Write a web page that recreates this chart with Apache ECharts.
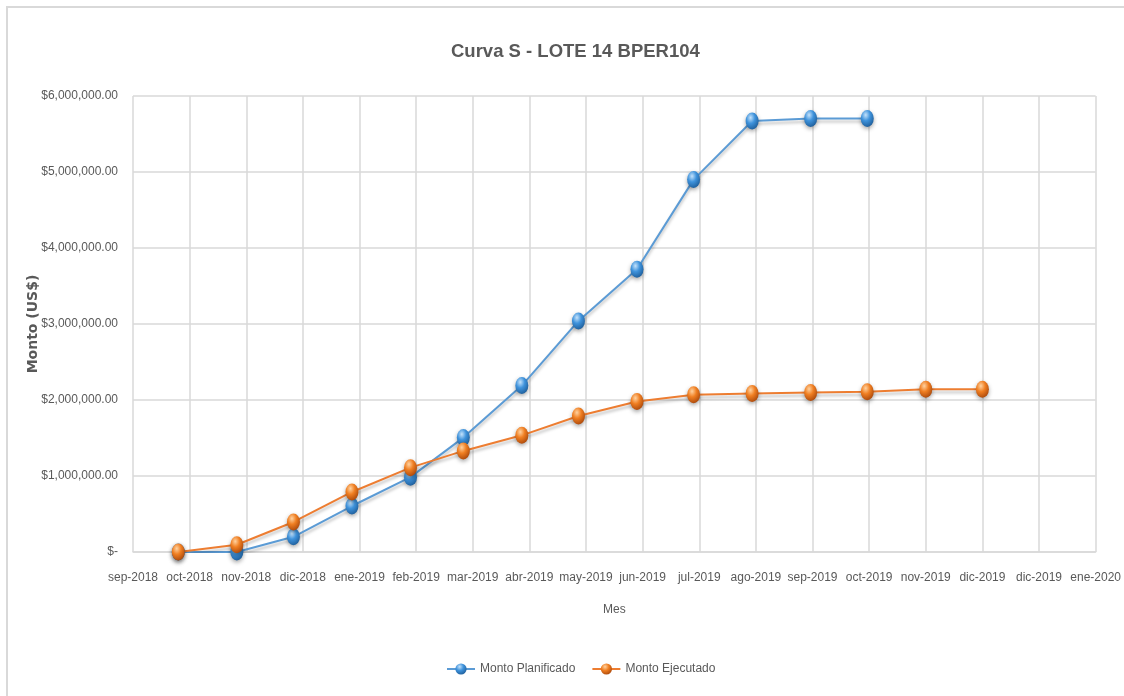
<!DOCTYPE html>
<html>
<head>
<meta charset="utf-8">
<script src="https://cdn.jsdelivr.net/npm/echarts@6/dist/echarts.min.js"></script>
<style>
	html, body{
		margin: 0;
		padding: 0;
		background: #fff;
	}
	#main{
		width: 1124px;
		height: 696px;
	}
</style>
</head>
<body>
<div id="main"></div>
<script type="text/javascript">
// fechas de cada punto (inicio de mes)
var meses = ['2018-10-01','2018-11-01','2018-12-01','2019-01-01','2019-02-01','2019-03-01','2019-04-01',
	'2019-05-01','2019-06-01','2019-07-01','2019-08-01','2019-09-01','2019-10-01','2019-11-01','2019-12-01'];
var montoPlanificado = [0, 0, 200000, 605000, 985000, 1505000, 2190000, 3040000, 3720000, 4900000, 5670000, 5705000, 5705000, null, null];
var montoEjecutado = [0, 95000, 395000, 790000, 1110000, 1330000, 1535000, 1790000, 1980000, 2070000, 2085000, 2100000, 2110000, 2140000, 2140000];
// etiquetas del eje X (unidad mayor = 30 dias)
var etiquetasX = ['sep-2018','oct-2018','nov-2018','dic-2018','ene-2019','feb-2019','mar-2019','abr-2019','may-2019',
	'jun-2019','jul-2019','ago-2019','sep-2019','oct-2019','nov-2019','dic-2019','dic-2019','ene-2020'];
var inicioEje = '2018-09-07';
var pasoDias = 30;

function dias(fecha){
	var a = fecha.split('-');
	var b = inicioEje.split('-');
	return (Date.UTC(+a[0], +a[1]-1, +a[2]) - Date.UTC(+b[0], +b[1]-1, +b[2])) / 86400000;
}
function serie(valores){
	var out = [];
	for(var i=0;i<valores.length;i++){
		if(valores[i]!=null){
			out.push([dias(meses[i]), valores[i]]);
		}
	}
	return out;
}
function dinero(v){
	if(v==0) return '$-';
	return '$' + v.toLocaleString('en-US', {minimumFractionDigits:2, maximumFractionDigits:2});
}
function esfera(c1, c2, c3){
	return {
		type: 'radial', x: 0.38, y: 0.3, r: 0.75,
		colorStops: [{offset:0, color:c1},{offset:0.45, color:c2},{offset:1, color:c3}]
	};
}

var fuente = "'Liberation Sans', Arial, sans-serif";
var gris = '#595959';
var myChart = echarts.init(document.getElementById('main'));
var option = {
	animation: false,
	backgroundColor: '#fff',
	graphic: [{
		type: 'rect',
		shape: {x: 7, y: 7, width: 1140, height: 720},
		style: {fill: 'none', stroke: '#d9d9d9', lineWidth: 2},
		silent: true
	}],
	title: {
		text: 'Curva S - LOTE 14 BPER104',
		left: 446,
		top: 37,
		textStyle: {fontFamily: fuente, fontSize: 18.5, fontWeight: 'bold', color: gris}
	},
	legend: {
		left: 441,
		top: 658,
		itemWidth: 28,
		itemHeight: 14,
		itemGap: 16,
		textStyle: {fontFamily: fuente, fontSize: 12, color: gris},
		data: ['Monto Planificado', 'Monto Ejecutado']
	},
	grid: {left: 133, right: 28, top: 96, bottom: 144},
	xAxis: {
		type: 'value',
		min: 0,
		max: pasoDias * (etiquetasX.length - 1),
		interval: pasoDias,
		name: 'Mes',
		nameLocation: 'middle',
		nameGap: 52,
		nameTextStyle: {fontFamily: fuente, fontSize: 12, color: gris},
		axisLine: {lineStyle: {color: '#d9d9d9', width: 1.5}},
		axisTick: {show: false},
		axisLabel: {
			fontFamily: fuente, fontSize: 12, color: gris, margin: 20,
			showMinLabel: true, showMaxLabel: true, hideOverlap: false,
			formatter: function(v){ return etiquetasX[Math.round(v / pasoDias)]; }
		},
		splitLine: {show: true, lineStyle: {color: '#d9d9d9', width: 1.5}}
	},
	yAxis: {
		type: 'value',
		min: 0,
		max: 6000000,
		interval: 1000000,
		name: 'Monto (US$)',
		nameLocation: 'middle',
		nameGap: 93,
		nameMoveOverlap: false,
		nameTextStyle: {fontFamily: "'DejaVu Sans', sans-serif", fontSize: 14, fontWeight: 'bold', color: gris},
		axisLine: {show: false},
		axisTick: {show: false},
		axisLabel: {fontFamily: fuente, fontSize: 12, color: gris, margin: 15, formatter: dinero},
		splitLine: {lineStyle: {color: '#d9d9d9', width: 1.5}}
	},
	series: [
		{
			name: 'Monto Planificado',
			type: 'line',
			data: serie(montoPlanificado),
			symbol: 'circle',
			symbolSize: [13, 17],
			color: '#3d8fd6',
			lineStyle: {color: '#5B9BD5', width: 2, shadowBlur: 3, shadowColor: 'rgba(0,0,0,0.25)', shadowOffsetY: 3},
			itemStyle: {
				color: esfera('#c4e2fb', '#3f93dc', '#1d5c98'),
				shadowBlur: 4, shadowColor: 'rgba(0,0,0,0.35)', shadowOffsetY: 2
			}
		},
		{
			name: 'Monto Ejecutado',
			type: 'line',
			data: serie(montoEjecutado),
			symbol: 'circle',
			symbolSize: [13, 17],
			color: '#ed7d31',
			lineStyle: {color: '#ED7D31', width: 2, shadowBlur: 3, shadowColor: 'rgba(0,0,0,0.25)', shadowOffsetY: 3},
			itemStyle: {
				color: esfera('#ffd2a0', '#f07f22', '#a9470b'),
				shadowBlur: 4, shadowColor: 'rgba(0,0,0,0.35)', shadowOffsetY: 2
			}
		}
	]
};
myChart.setOption(option);
</script>
</body>
</html>
